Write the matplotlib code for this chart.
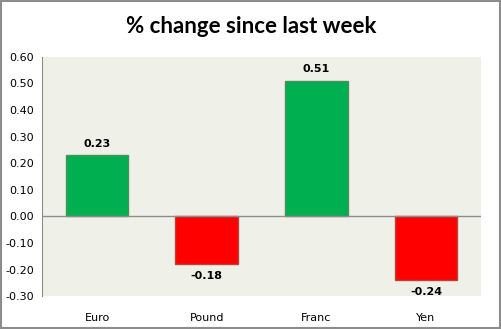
import matplotlib.pyplot as plt
from matplotlib.patches import Rectangle

currencies = ["Euro", "Pound", "Franc", "Yen"]
changes = [0.23, -0.18, 0.51, -0.24]
yticks = [-0.30, -0.20, -0.10, 0.00, 0.10, 0.20, 0.30, 0.40, 0.50, 0.60]

fig = plt.figure(figsize=(5.02, 3.29), dpi=100)
ax = fig.add_axes([0.084, 0.100, 0.874, 0.727])
ax.set_facecolor("#EFF1E9")

colors = ["#00B050" if v >= 0 else "#FF0000" for v in changes]
edges = ["#4E8F5E" if v >= 0 else "#B5473A" for v in changes]
x = range(len(currencies))
bars = ax.bar(x, changes, width=0.57, color=colors, edgecolor=edges, linewidth=1)

for rect, v in zip(bars, changes):
    cx = rect.get_x() + rect.get_width() / 2
    if v >= 0:
        ax.text(cx, v + 0.025, "%.2f" % v, ha="center", va="bottom",
                fontsize=8, fontweight="bold")
    else:
        ax.text(cx, v - 0.025, "%.2f" % v, ha="center", va="top",
                fontsize=8, fontweight="bold")

ax.axhline(0, color="#8C8C8C", linewidth=1)
ax.set_xlim(-0.5, 3.5)
ax.set_ylim(-0.30, 0.60)
ax.set_yticks(yticks)
ax.set_yticklabels(["%.2f" % t for t in yticks], fontsize=8)
ax.set_xticks(list(x))
ax.set_xticklabels(currencies, fontsize=8)
ax.tick_params(axis="x", length=0, pad=12)
ax.tick_params(axis="y", length=0, pad=6)
for s in ["top", "right", "bottom"]:
    ax.spines[s].set_visible(False)
ax.spines["left"].set_color("#8C8C8C")

fig.text(0.5, 0.918, "% change since last week", ha="center", va="center",
         fontsize=16, fontweight="bold", family="Lato")

fig.patches.append(Rectangle((0.002, 0.003), 0.995, 0.994, transform=fig.transFigure,
                             fill=False, edgecolor="#8C8C8C", linewidth=1.5))

fig.savefig("out.png", dpi=100)
